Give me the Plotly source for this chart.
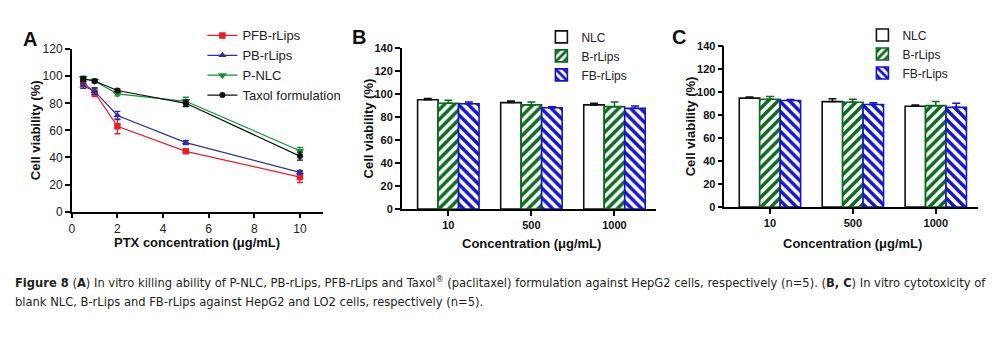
import plotly.graph_objects as go

W, H = 1001, 342

# ---- Panel A: PTX formulations vs HepG2 ----
ptx_conc = [0.5, 1, 2, 5, 10]
pfb_rlips = [95.5, 88.0, 63.0, 44.5, 25.5]
pfb_rlips_err = [2.0, 3.0, 5.5, 1.0, 4.0]
pb_rlips = [93.0, 89.0, 71.0, 51.0, 29.0]
pb_rlips_err = [2.0, 2.5, 3.0, 1.5, 1.5]
p_nlc = [98.5, 96.5, 87.0, 81.5, 45.0]
p_nlc_err = [1.5, 1.5, 1.5, 3.0, 2.5]
taxol = [98.0, 96.5, 89.5, 80.0, 41.0]
taxol_err = [1.5, 1.0, 1.0, 2.5, 3.0]

# ---- Panels B / C: blank carriers ----
carrier_conc = ["10", "500", "1000"]
b_nlc = [95.0, 92.5, 90.5]
b_nlc_err = [1.0, 1.5, 1.5]
b_brlips = [92.0, 90.5, 89.0]
b_brlips_err = [2.5, 2.5, 4.0]
b_fbrlips = [91.5, 88.0, 87.5]
b_fbrlips_err = [1.5, 1.0, 2.0]

c_nlc = [94.5, 91.5, 87.5]
c_nlc_err = [1.0, 2.5, 1.0]
c_brlips = [93.5, 91.0, 88.0]
c_brlips_err = [2.5, 2.5, 3.5]
c_fbrlips = [92.5, 89.0, 86.5]
c_fbrlips_err = [0.8, 1.5, 3.5]


def px(x):
    return x / W


def py(y):
    return 1 - y / H


FONT = "Arial, 'Liberation Sans', sans-serif"
RED, BLUE, GREEN, BLACK = "#ec1c24", "#2e2e9c", "#16913a", "#111111"
BAR_GREEN, BAR_BLUE = "#0b6a1e", "#1414c8"

fig = go.Figure()

line_series = [
    ("PFB-rLips", pfb_rlips, pfb_rlips_err, RED, "square", 6.5),
    ("PB-rLips", pb_rlips, pb_rlips_err, BLUE, "triangle-up", 7),
    ("P-NLC", p_nlc, p_nlc_err, GREEN, "triangle-down", 8),
    ("Taxol formulation", taxol, taxol_err, BLACK, "circle", 6),
]
for name, vals, errs, col, sym, size in line_series:
    fig.add_trace(go.Scatter(
        x=ptx_conc, y=vals, name=name, mode="lines+markers",
        line=dict(color=col, width=1.2),
        marker=dict(color=col, symbol=sym, size=size),
        error_y=dict(type="data", array=errs, color=col, thickness=1.3, width=3),
        xaxis="x", yaxis="y", legend="legend",
    ))

bar_styles = [
    ("NLC", "white", BLACK, ""),
    ("B-rLips", BAR_GREEN, BAR_GREEN, "/"),
    ("FB-rLips", BAR_BLUE, BAR_BLUE, "\\"),
]
panel_data = [
    ("x2", "y2", "legend2", [(b_nlc, b_nlc_err), (b_brlips, b_brlips_err), (b_fbrlips, b_fbrlips_err)]),
    ("x3", "y3", "legend3", [(c_nlc, c_nlc_err), (c_brlips, c_brlips_err), (c_fbrlips, c_fbrlips_err)]),
]
for xa, ya, lg, series in panel_data:
    for (name, fg, edge, shape), (vals, errs) in zip(bar_styles, series):
        pattern = dict(shape=shape, fgcolor=fg, bgcolor="white", size=7,
                       solidity=0.5, fillmode="replace")
        fig.add_trace(go.Bar(
            x=carrier_conc, y=vals, name=name,
            marker=dict(color="white", pattern=pattern,
                        line=dict(color=edge, width=1.6)),
            error_y=dict(type="data", array=errs, arrayminus=[0] * len(errs),
                         color=edge, thickness=1.5, width=4),
            xaxis=xa, yaxis=ya, legend=lg,
        ))

axis_common = dict(showline=True, linecolor="black", linewidth=1.5,
                   ticks="outside", ticklen=5, tickwidth=1.5, tickcolor="black",
                   showgrid=False, zeroline=False)
bold_ticks = dict(family=FONT, size=11, color="#111", weight="bold")
plain_ticks = dict(family=FONT, size=12, color="#222")

fig.update_layout(
    width=W, height=H, margin=dict(l=0, r=0, t=0, b=0),
    paper_bgcolor="white", plot_bgcolor="white",
    font=dict(family=FONT, color="#111"),
    barmode="group", bargap=0.26, bargroupgap=0,
    showlegend=True,
    xaxis=dict(domain=[px(69), px(320.7)], range=[0, 11], tickvals=[0, 2, 4, 6, 8, 10],
               anchor="y", tickfont=plain_ticks, **axis_common),
    yaxis=dict(domain=[py(213.3), py(44)], range=[0, 120], dtick=20,
               anchor="x", tickfont=plain_ticks, **axis_common),
    xaxis2=dict(domain=[px(400), px(655)], range=[-0.56, 2.5], type="category",
                anchor="y2", tickfont=bold_ticks, **axis_common),
    yaxis2=dict(domain=[py(210.7), py(42.7)], range=[0, 140], dtick=20,
                anchor="x2", tickfont=bold_ticks, **axis_common),
    xaxis3=dict(domain=[px(723.5), px(978)], range=[-0.55, 2.51], type="category",
                anchor="y3", tickfont=bold_ticks, **axis_common),
    yaxis3=dict(domain=[py(208.7), py(40.3)], range=[0, 140], dtick=20,
                anchor="x3", tickfont=bold_ticks, **axis_common),
    legend=dict(x=px(200), y=py(14), xanchor="left", yanchor="top",
                font=dict(family=FONT, size=13, color="#222"),
                bgcolor="rgba(0,0,0,0)", itemwidth=30),
    legend2=dict(x=px(540), y=py(16), xanchor="left", yanchor="top",
                 font=dict(family=FONT, size=12, color="#222"),
                 bgcolor="rgba(0,0,0,0)", itemwidth=30),
    legend3=dict(x=px(862), y=py(14), xanchor="left", yanchor="top",
                 font=dict(family=FONT, size=12, color="#222"),
                 bgcolor="rgba(0,0,0,0)", itemwidth=30),
)

annotations = [
    # panel letters
    dict(text="<b>A</b>", x=px(27.5), y=py(33), font=dict(size=20)),
    dict(text="<b>B</b>", x=px(357.5), y=py(31.5), font=dict(size=20)),
    dict(text="<b>C</b>", x=px(678.5), y=py(31.5), font=dict(size=20)),
    # axis titles
    dict(text="<b>Cell viability (%)</b>", x=px(32), y=py(128.5), textangle=-90, font=dict(size=13)),
    dict(text="<b>PTX concentration (μg/mL)</b>", x=px(195), y=py(246), font=dict(size=13)),
    dict(text="<b>Cell viability (%)</b>", x=px(367), y=py(126.7), textangle=-90, font=dict(size=13)),
    dict(text="<b>Concentration (μg/mL)</b>", x=px(530), y=py(247), font=dict(size=13)),
    dict(text="<b>Cell viability (%)</b>", x=px(689), y=py(124.5), textangle=-90, font=dict(size=13)),
    dict(text="<b>Concentration (μg/mL)</b>", x=px(852), y=py(246.5), font=dict(size=13)),
]
for a in annotations:
    a.update(xref="paper", yref="paper", showarrow=False, xanchor="center", yanchor="middle")
    a["font"] = dict(family=FONT, color="#111", **a["font"])
    fig.add_annotation(**a)

CAPTION_FONT = "'Liberation Sans Narrow', 'DejaVu Sans Condensed', sans-serif"
caption_lines = [
    "<b>Figure 8</b> (<b>A</b>) In vitro killing ability of P-NLC, PB-rLips, PFB-rLips and Taxol<sup>®</sup> "
    "(paclitaxel) formulation against HepG2 cells, respectively (n=5). (<b>B, C</b>) In vitro cytotoxicity of",
    "blank NLC, B-rLips and FB-rLips against HepG2 and LO2 cells, respectively (n=5).",
]
for i, line in enumerate(caption_lines):
    fig.add_annotation(text=line, x=px(10), y=py(287 + 20 * i), xref="paper", yref="paper",
                       xanchor="left", yanchor="middle", showarrow=False, align="left",
                       font=dict(family=CAPTION_FONT, size=12.8, color="#231f20"))

fig.write_html("out.html")
